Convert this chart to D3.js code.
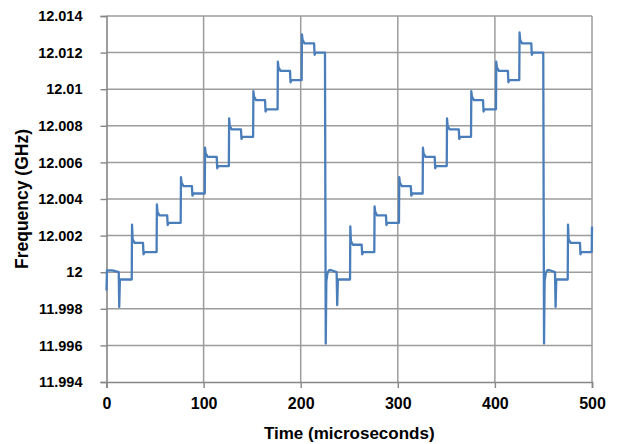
<!DOCTYPE html>
<html>
<head>
<meta charset="utf-8">
<script src="https://cdn.jsdelivr.net/npm/d3@7/dist/d3.min.js"></script>
<style>
  html, body { margin: 0; padding: 0; background: #ffffff; }
  svg { display: block; }
  text { font-family: "Liberation Sans", Arial, sans-serif; font-weight: bold; fill: #000; }
</style>
</head>
<body>
<svg id="chart" width="620" height="444"></svg>
<script>
// ---- data ----
const xTicks = [0, 100, 200, 300, 400, 500];
const yTicks = [11.994, 11.996, 11.998, 12, 12.002, 12.004, 12.006, 12.008, 12.01, 12.012, 12.014];
const xTitle = "Time (microseconds)";
const yTitle = "Frequency (GHz)";

// [time (µs), frequency (GHz)]
const samples = [
  [0, 11.9990], [0.5, 12.0001], [6, 12.0001], [12.6, 12.0000], [13.1, 11.9981], [13.8, 11.9996], [26, 11.9996],
  [26.3, 12.0026], [26.9, 12.0018], [29, 12.0016], [37.6, 12.0016], [38.1, 12.00098], [39.1, 12.0011], [51.6, 12.0011],
  [51.9, 12.0037], [52.5, 12.0033], [54.6, 12.0031], [62.5, 12.0031], [63, 12.00258], [64, 12.0027], [76.4, 12.0027],
  [76.7, 12.0052], [77.3, 12.0049], [79.4, 12.0047], [88, 12.0047], [88.5, 12.00418], [89.5, 12.0043], [101.2, 12.0043],
  [101.5, 12.0068], [102.1, 12.0065], [104.2, 12.0063], [113.5, 12.0063], [114, 12.00568], [115, 12.0058], [126, 12.0058],
  [126.3, 12.0084], [126.9, 12.0080], [129, 12.0078], [138.5, 12.0078], [139, 12.00728], [140, 12.0074], [151, 12.0074],
  [151.3, 12.0099], [151.9, 12.0096], [154, 12.0094], [163.3, 12.0094], [163.8, 12.00878], [164.8, 12.0089], [176.2, 12.0089],
  [176.5, 12.0115], [177.1, 12.0112], [179.2, 12.0110], [189, 12.0110], [189.5, 12.01038], [190.5, 12.0105], [201, 12.0105],
  [201.3, 12.0130], [201.9, 12.0127], [204, 12.0125], [213.8, 12.0125], [214.3, 12.01188], [215.3, 12.0120], [225, 12.0120],
  [225.8, 11.9961], [226.4, 11.9995], [227.5, 11.99993], [229, 12.0001], [231, 12.00012], [237, 12.0000], [237.6, 11.9982], [238.3, 11.9996], [250.8, 11.9996],
  [251.1, 12.0025], [251.7, 12.0017], [253.8, 12.0015], [262.8, 12.0015], [263.3, 12.00098], [264.3, 12.0011], [275.8, 12.0011],
  [276.1, 12.0036], [276.7, 12.0033], [278.8, 12.0031], [287.8, 12.0031], [288.3, 12.00258], [289.3, 12.0027], [301.2, 12.0027],
  [301.5, 12.0052], [302.1, 12.0049], [304.2, 12.0047], [313.4, 12.0047], [313.9, 12.00418], [314.9, 12.0043], [325.6, 12.0043],
  [325.9, 12.0068], [326.5, 12.0065], [328.6, 12.0063], [338, 12.0063], [338.5, 12.00568], [339.5, 12.0058], [350.4, 12.0058],
  [350.7, 12.0084], [351.3, 12.0080], [353.4, 12.0078], [362.8, 12.0078], [363.3, 12.00728], [364.3, 12.0074], [375.4, 12.0074],
  [375.7, 12.0099], [376.3, 12.0096], [378.4, 12.0094], [387.8, 12.0094], [388.3, 12.00878], [389.3, 12.0089], [401.1, 12.0089],
  [401.4, 12.0115], [402, 12.0112], [404.1, 12.0110], [413.4, 12.0110], [413.9, 12.01038], [414.9, 12.0105], [425.1, 12.0105],
  [425.4, 12.0131], [426, 12.0127], [428.1, 12.0125], [437.5, 12.0125], [438, 12.01188], [439, 12.0120], [449.8, 12.0120],
  [450.6, 11.9961], [451.2, 11.9995], [452.3, 11.99993], [453.8, 12.0001], [455.8, 12.00012], [461.9, 12.0000], [462.5, 11.9981], [463.2, 11.9996], [475, 11.9996],
  [475.3, 12.0026], [475.9, 12.0018], [478, 12.0016], [487.6, 12.0016], [488.1, 12.00098], [489.1, 12.0011], [499.7, 12.0011],
  [500, 12.0025]
];

// ---- layout ----
const svg = d3.select("#chart");
const pLeft = 106.5, pRight = 592, pTop = 16, pBottom = 382;
const x = d3.scaleLinear().domain([0, 500]).range([pLeft, pRight]);
const y = d3.scaleLinear().domain([11.994, 12.014]).range([pBottom, pTop]);

const gridColor = "#9c9c9c";
const axisColor = "#868686";

// horizontal gridlines
svg.append("g").selectAll("line").data(yTicks.filter(d => d > 11.994)).join("line")
  .attr("x1", pLeft).attr("x2", pRight)
  .attr("y1", d => y(d)).attr("y2", d => y(d))
  .attr("stroke", gridColor).attr("stroke-width", 1.5);

// vertical gridlines
svg.append("g").selectAll("line").data(xTicks.filter(d => d > 0)).join("line")
  .attr("x1", d => x(d)).attr("x2", d => x(d))
  .attr("y1", pTop).attr("y2", pBottom)
  .attr("stroke", gridColor).attr("stroke-width", 1.5);

// y axis
const yAxis = d3.axisLeft(y).tickValues(yTicks).tickSize(6).tickPadding(18)
  .tickFormat(d => String(+d.toFixed(3)));
const gy = svg.append("g").attr("transform", `translate(${pLeft},0)`).call(yAxis);
gy.select(".domain").attr("stroke", axisColor).attr("stroke-width", 1.6);
gy.selectAll(".tick line").attr("stroke", axisColor).attr("stroke-width", 1.4);
gy.selectAll(".tick text").attr("font-size", "14.5px").attr("font-family", "Liberation Sans, Arial, sans-serif")
  .attr("font-weight", "bold").attr("fill", "#000");

// x axis
const xAxis = d3.axisBottom(x).tickValues(xTicks).tickSize(6).tickPadding(10).tickFormat(d3.format("d"));
const gx = svg.append("g").attr("transform", `translate(0,${pBottom})`).call(xAxis);
gx.select(".domain").attr("stroke", axisColor).attr("stroke-width", 1.6);
gx.selectAll(".tick line").attr("stroke", axisColor).attr("stroke-width", 1.4);
gx.selectAll(".tick text").attr("font-size", "16px").attr("font-family", "Liberation Sans, Arial, sans-serif")
  .attr("font-weight", "bold").attr("fill", "#000");
gy.select(".domain").raise();

// series line
const line = d3.line().x(d => x(d[0])).y(d => y(d[1]));
svg.append("path").datum(samples)
  .attr("d", line)
  .attr("fill", "none")
  .attr("stroke", "#4A7EBB")
  .attr("stroke-width", 2.3)
  .attr("stroke-linejoin", "round");

// axis titles
svg.append("text").attr("x", (pLeft + pRight) / 2).attr("y", 439)
  .attr("text-anchor", "middle").attr("font-size", "17px").text(xTitle);
svg.append("text").attr("transform", `translate(28,${(pTop + pBottom) / 2}) rotate(-90)`)
  .attr("text-anchor", "middle").attr("font-size", "17.5px").text(yTitle);
</script>
</body>
</html>
